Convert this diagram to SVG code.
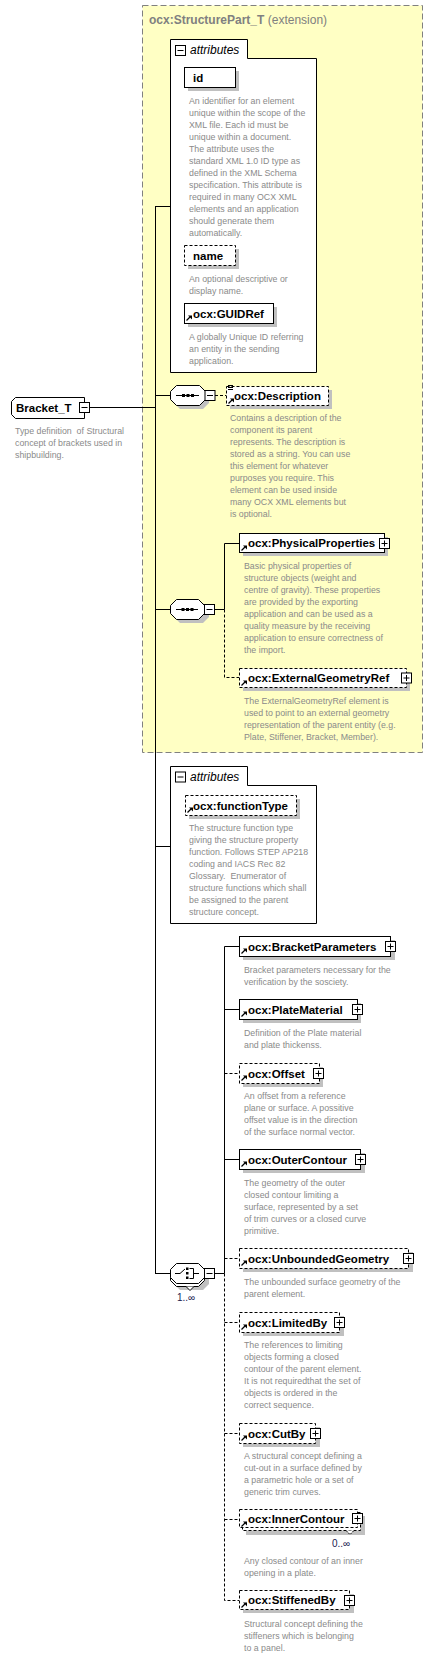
<svg xmlns="http://www.w3.org/2000/svg" width="434" height="1658" viewBox="0 0 434 1658">
<style>
.bg{fill:#fff}
.ext{fill:#ffffc4;stroke:#808080;stroke-width:1;stroke-dasharray:6,3}
.box{fill:#fff;stroke:#000;stroke-width:1}
.opt{stroke-dasharray:3,2}
.sh{fill:#c0c0c0}
.ln{fill:none;stroke:#000;stroke-width:1}
.dl{fill:none;stroke:#000;stroke-width:1;stroke-dasharray:3,2}
.lbl{font-family:"Liberation Sans",Arial,sans-serif;font-weight:bold;font-size:11.5px;fill:#000}
.desc{font-family:"Liberation Sans",Arial,sans-serif;font-size:8.8px;fill:#8a8a8a}
.ttl{font-family:"Liberation Sans",Arial,sans-serif;font-size:12px;fill:#808080}
.att{font-family:"Liberation Sans",Arial,sans-serif;font-style:italic;font-size:12px;fill:#000}
.mul{font-family:"Liberation Sans",Arial,sans-serif;font-size:10px;fill:#202050}
.ico{fill:#000}
</style>
<defs>
<g id="arr"><path d="M2.5,17.5 L6,14" stroke="#000" stroke-width="1.2"/><path d="M4,12.5 L8,12.5 L8,16.5 Z" fill="#000"/></g>
<g id="plus"><rect x="-5" y="-5" width="10" height="10" fill="#fff" stroke="#000"/><path d="M-3,0 H3 M0,-3 V3" stroke="#000"/></g>
<g id="minus"><rect x="-5" y="-5" width="10" height="10" fill="#fff" stroke="#000"/><path d="M-3,0 H3" stroke="#000"/></g>
</defs>
<rect class="bg" x="0" y="0" width="434" height="1658"/>

<g id="ext">
<rect class="ext" x="142.5" y="5.5" width="280" height="747"/>
<text class="ttl" x="149" y="24"><tspan font-weight="bold">ocx:StructurePart_T</tspan> (extension)</text>
</g>

<g id="connectors">
<path class="ln" d="M89,407.5 H155.5 M155.5,206 V1273.5 M155,206.5 H170 M155,395.5 H170 M155,609.5 H170 M155,846.5 H170 M155,1273.5 H170"/>
<path class="dl" d="M215,395.5 H226"/>
<path class="ln" d="M214,609.5 H224.5 M224.5,609.5 V543.5 H239"/>
<path class="dl" d="M224.5,609.5 V677.5 H239"/>
<path class="ln" d="M214,1273.5 H224.5 M224.5,1273.5 V946.5 H239 M224.5,1009.5 H239 M224.5,1159.5 H239"/>
<path class="dl" d="M224.5,1273.5 V1600.5 H239 M224.5,1073.5 H239 M224.5,1258.5 H239 M224.5,1322.5 H239 M224.5,1433.5 H239 M224.5,1519.5 H239"/>
</g>

<g id="Bracket_T">
<path class="box" d="M15.5,397.5 H84.5 V418.5 H15.5 L11.5,414.5 V401.5 Z"/>
<text class="lbl" x="16" y="412">Bracket_T</text>
<use href="#minus" x="84.5" y="407.5"/>
<text class="desc" x="15" y="434" xml:space="preserve">Type definition  of Structural</text>
<text class="desc" x="15" y="446">concept of brackets used in</text>
<text class="desc" x="15" y="458">shipbuilding.</text>
</g>

<g id="attributes1">
<path class="box" d="M170.5,39.5 H247.5 V58.5 H316.5 V372.5 H170.5 Z"/>
<use href="#minus" x="180.5" y="50.5"/>
<text class="att" x="190" y="54">attributes</text>
</g>

<g id="id">
<rect class="sh" x="188" y="71" width="51" height="20"/>
<rect class="box" x="184.5" y="67.5" width="51" height="20"/>
<text class="lbl" x="193" y="82">id</text>
<text class="desc" x="189" y="104">An identifier for an element</text>
<text class="desc" x="189" y="116">unique within the scope of the</text>
<text class="desc" x="189" y="128">XML file. Each id must be</text>
<text class="desc" x="189" y="140">unique within a document.</text>
<text class="desc" x="189" y="152">The attribute uses the</text>
<text class="desc" x="189" y="164">standard XML 1.0 ID type as</text>
<text class="desc" x="189" y="176">defined in the XML Schema</text>
<text class="desc" x="189" y="188">specification. This attribute is</text>
<text class="desc" x="189" y="200">required in many OCX XML</text>
<text class="desc" x="189" y="212">elements and an application</text>
<text class="desc" x="189" y="224">should generate them</text>
<text class="desc" x="189" y="236">automatically.</text>
</g>

<g id="name">
<rect class="sh" x="188" y="249" width="51" height="20"/>
<rect class="box opt" x="184.5" y="245.5" width="51" height="20"/>
<text class="lbl" x="193" y="260">name</text>
<text class="desc" x="189" y="282">An optional descriptive or</text>
<text class="desc" x="189" y="294">display name.</text>
</g>

<g id="GUIDRef">
<rect class="sh" x="188" y="307" width="89" height="20"/>
<rect class="box" x="184.5" y="303.5" width="89" height="20"/>
<use href="#arr" x="184" y="303"/>
<text class="lbl" x="193" y="318">ocx:GUIDRef</text>
<text class="desc" x="189" y="340">A globally Unique ID referring</text>
<text class="desc" x="189" y="352">an entity in the sending</text>
<text class="desc" x="189" y="364">application.</text>
</g>

<g id="seq1">
<path class="sh" d="M180,389 H203 L209,395 V403 L203,409 H180 L174,403 V395 Z"/>
<path class="box" d="M176.5,385.5 H199.5 L205.5,391.5 V399.5 L199.5,405.5 H176.5 L170.5,399.5 V391.5 Z"/>
<path class="ln" d="M176,395.5 H199"/>
<rect class="ico" x="182" y="394" width="3" height="3"/><rect class="ico" x="186.5" y="394" width="3" height="3"/><rect class="ico" x="191" y="394" width="3" height="3"/>
<use href="#minus" x="210" y="395.5"/>
</g>

<g id="Description">
<rect class="sh" x="230" y="390" width="102" height="19"/>
<rect class="box opt" x="226.5" y="386.5" width="102" height="19"/>
<path d="M228,385.5 H233 M228,387.5 H233 M228,389.5 H233" stroke="#000" stroke-width="1"/>
<use href="#arr" x="226" y="386"/>
<text class="lbl" x="234" y="400">ocx:Description</text>
<text class="desc" x="230" y="421">Contains a description of the</text>
<text class="desc" x="230" y="433">component its parent</text>
<text class="desc" x="230" y="445">represents. The description is</text>
<text class="desc" x="230" y="457">stored as a string. You can use</text>
<text class="desc" x="230" y="469">this element for whatever</text>
<text class="desc" x="230" y="481">purposes you require. This</text>
<text class="desc" x="230" y="493">element can be used inside</text>
<text class="desc" x="230" y="505">many OCX XML elements but</text>
<text class="desc" x="230" y="517">is optional.</text>
</g>

<g id="seq2">
<path class="sh" d="M180,603 H203 L209,609 V617 L203,623 H180 L174,617 V609 Z"/>
<path class="box" d="M176.5,599.5 H198.5 L204.5,605.5 V613.5 L198.5,619.5 H176.5 L170.5,613.5 V605.5 Z"/>
<path class="ln" d="M176,609.5 H198"/>
<rect class="ico" x="181.5" y="608" width="3" height="3"/><rect class="ico" x="186" y="608" width="3" height="3"/><rect class="ico" x="190.5" y="608" width="3" height="3"/>
<use href="#minus" x="209.5" y="609.5"/>
</g>

<g id="PhysicalProperties">
<rect class="sh" x="243" y="537" width="145" height="19"/>
<rect class="box" x="239.5" y="533.5" width="145" height="19"/>
<use href="#arr" x="239" y="533"/>
<text class="lbl" x="248" y="547">ocx:PhysicalProperties</text>
<use href="#plus" x="384.5" y="543.5"/>
<text class="desc" x="244" y="569">Basic physical properties of</text>
<text class="desc" x="244" y="581">structure objects (weight and</text>
<text class="desc" x="244" y="593">centre of gravity). These properties</text>
<text class="desc" x="244" y="605">are provided by the exporting</text>
<text class="desc" x="244" y="617">application and can be used as a</text>
<text class="desc" x="244" y="629">quality measure by the receiving</text>
<text class="desc" x="244" y="641">application to ensure correctness of</text>
<text class="desc" x="244" y="653">the import.</text>
</g>

<g id="ExternalGeometryRef">
<rect class="sh" x="243" y="672" width="167" height="19"/>
<rect class="box opt" x="239.5" y="668.5" width="167" height="19"/>
<use href="#arr" x="239" y="668"/>
<text class="lbl" x="248" y="682">ocx:ExternalGeometryRef</text>
<use href="#plus" x="406.5" y="678"/>
<text class="desc" x="244" y="704">The ExternalGeometryRef element is</text>
<text class="desc" x="244" y="716">used to point to an external geometry</text>
<text class="desc" x="244" y="728">representation of the parent entity (e.g.</text>
<text class="desc" x="244" y="740">Plate, Stiffener, Bracket, Member).</text>
</g>

<g id="attributes2">
<path class="box" d="M170.5,766.5 H247.5 V785.5 H316.5 V923.5 H170.5 Z"/>
<use href="#minus" x="180.5" y="777"/>
<text class="att" x="190" y="781">attributes</text>
</g>

<g id="functionType">
<rect class="sh" x="189" y="799" width="111" height="20"/>
<rect class="box opt" x="185.5" y="795.5" width="111" height="20"/>
<use href="#arr" x="185" y="795"/>
<text class="lbl" x="193" y="810">ocx:functionType</text>
<text class="desc" x="189" y="831">The structure function type</text>
<text class="desc" x="189" y="843">giving the structure property</text>
<text class="desc" x="189" y="855">function. Follows STEP AP218</text>
<text class="desc" x="189" y="867">coding and IACS Rec 82</text>
<text class="desc" x="189" y="879" xml:space="preserve">Glossary.  Enumerator of</text>
<text class="desc" x="189" y="891">structure functions which shall</text>
<text class="desc" x="189" y="903">be assigned to the parent</text>
<text class="desc" x="189" y="915">structure concept.</text>
</g>

<g id="choice">
<path class="sh" d="M180,1270 H203 L209,1276 V1284 L203,1290 H180 L174,1284 V1276 Z"/>
<path class="box" d="M176.5,1266.5 H198.5 L204.5,1272.5 V1280.5 L198.5,1286.5 H176.5 L170.5,1280.5 V1272.5 Z"/>
<path d="M186,1286.5 L190,1290.5 L194,1286.5" fill="#fff" stroke="#000"/>
<path class="box" d="M176.5,1263.5 H198.5 L204.5,1269.5 V1277.5 L198.5,1283.5 H176.5 L170.5,1277.5 V1269.5 Z"/>
<path class="ln" d="M175,1273.5 H180 L185,1269 M193,1273.5 H199 M189.5,1268.5 H193.5 V1278.5 H189.5"/>
<rect class="ico" x="186" y="1267.5" width="2.5" height="2.5"/><rect class="ico" x="186" y="1272" width="2.5" height="2.5"/><rect class="ico" x="186" y="1276.5" width="2.5" height="2.5"/>
<use href="#minus" x="209.5" y="1273.5"/>
<text class="mul" x="177" y="1301">1..∞</text>
</g>

<g id="BracketParameters">
<rect class="sh" x="243" y="940" width="152" height="20"/>
<rect class="box" x="239.5" y="936.5" width="151" height="20"/>
<use href="#arr" x="239" y="936"/>
<text class="lbl" x="248" y="951">ocx:BracketParameters</text>
<use href="#plus" x="390.5" y="946.5"/>
<text class="desc" x="244" y="973">Bracket parameters necessary for the</text>
<text class="desc" x="244" y="985">verification by the sosciety.</text>
</g>

<g id="PlateMaterial">
<rect class="sh" x="243" y="1003" width="118" height="20"/>
<rect class="box" x="239.5" y="999.5" width="118" height="20"/>
<use href="#arr" x="239" y="999"/>
<text class="lbl" x="248" y="1014">ocx:PlateMaterial</text>
<use href="#plus" x="357.5" y="1009.5"/>
<text class="desc" x="244" y="1036">Definition of the Plate material</text>
<text class="desc" x="244" y="1048">and plate thickenss.</text>
</g>

<g id="Offset">
<rect class="sh" x="243" y="1067" width="80" height="20"/>
<rect class="box opt" x="239.5" y="1063.5" width="80" height="20"/>
<use href="#arr" x="239" y="1063"/>
<text class="lbl" x="248" y="1078">ocx:Offset</text>
<use href="#plus" x="318.5" y="1073.5"/>
<text class="desc" x="244" y="1099">An offset from a reference</text>
<text class="desc" x="244" y="1111">plane or surface. A possitive</text>
<text class="desc" x="244" y="1123">offset value is in the direction</text>
<text class="desc" x="244" y="1135">of the surface normal vector.</text>
</g>

<g id="OuterContour">
<rect class="sh" x="243" y="1153" width="122" height="20"/>
<rect class="box" x="239.5" y="1149.5" width="121" height="20"/>
<use href="#arr" x="239" y="1149"/>
<text class="lbl" x="248" y="1164">ocx:OuterContour</text>
<use href="#plus" x="360.5" y="1159.5"/>
<text class="desc" x="244" y="1186">The geometry of the outer</text>
<text class="desc" x="244" y="1198">closed contour limiting a</text>
<text class="desc" x="244" y="1210">surface, represented by a set</text>
<text class="desc" x="244" y="1222">of trim curves or a closed curve</text>
<text class="desc" x="244" y="1234">primitive.</text>
</g>

<g id="UnboundedGeometry">
<rect class="sh" x="243" y="1252" width="170" height="20"/>
<rect class="box opt" x="239.5" y="1248.5" width="169" height="20"/>
<use href="#arr" x="239" y="1248"/>
<text class="lbl" x="248" y="1263">ocx:UnboundedGeometry</text>
<use href="#plus" x="408.5" y="1258.5"/>
<text class="desc" x="244" y="1285">The unbounded surface geometry of the</text>
<text class="desc" x="244" y="1297">parent element.</text>
</g>

<g id="LimitedBy">
<rect class="sh" x="243" y="1316" width="101" height="20"/>
<rect class="box opt" x="239.5" y="1312.5" width="100" height="20"/>
<use href="#arr" x="239" y="1312"/>
<text class="lbl" x="248" y="1327">ocx:LimitedBy</text>
<use href="#plus" x="339.5" y="1322.5"/>
<text class="desc" x="244" y="1348">The references to limiting</text>
<text class="desc" x="244" y="1360">objects forming a closed</text>
<text class="desc" x="244" y="1372">contour of the parent element.</text>
<text class="desc" x="244" y="1384">It is not requiredthat the set of</text>
<text class="desc" x="244" y="1396">objects is ordered in the</text>
<text class="desc" x="244" y="1408">correct sequence.</text>
</g>

<g id="CutBy">
<rect class="sh" x="243" y="1427" width="77" height="20"/>
<rect class="box opt" x="239.5" y="1423.5" width="76" height="20"/>
<use href="#arr" x="239" y="1423"/>
<text class="lbl" x="248" y="1438">ocx:CutBy</text>
<use href="#plus" x="315.5" y="1433.5"/>
<text class="desc" x="244" y="1459">A structural concept defining a</text>
<text class="desc" x="244" y="1471">cut-out in a surface defined by</text>
<text class="desc" x="244" y="1483">a parametric hole or a set of</text>
<text class="desc" x="244" y="1495">generic trim curves.</text>
</g>

<g id="InnerContour">
<rect class="sh" x="246" y="1516" width="119" height="19"/>
<rect class="box opt" x="242.5" y="1512.5" width="118" height="18"/>
<path d="M346,1530.5 L350,1534.5 L354,1530.5" fill="#fff" stroke="#000" stroke-dasharray="2,1"/>
<rect class="box opt" x="239.5" y="1509.5" width="118" height="18"/>
<use href="#arr" x="239" y="1509"/>
<text class="lbl" x="248" y="1523">ocx:InnerContour</text>
<use href="#plus" x="357.5" y="1518.5"/>
<text class="mul" x="332" y="1547">0..∞</text>
<text class="desc" x="244" y="1564">Any closed contour of an inner</text>
<text class="desc" x="244" y="1576">opening in a plate.</text>
</g>

<g id="StiffenedBy">
<rect class="sh" x="243" y="1594" width="111" height="19"/>
<rect class="box opt" x="239.5" y="1590.5" width="110" height="19"/>
<use href="#arr" x="239" y="1590"/>
<text class="lbl" x="248" y="1604">ocx:StiffenedBy</text>
<use href="#plus" x="349.5" y="1600.5"/>
<text class="desc" x="244" y="1627">Structural concept defining the</text>
<text class="desc" x="244" y="1639">stiffeners which is belonging</text>
<text class="desc" x="244" y="1651">to a panel.</text>
</g>
</svg>
